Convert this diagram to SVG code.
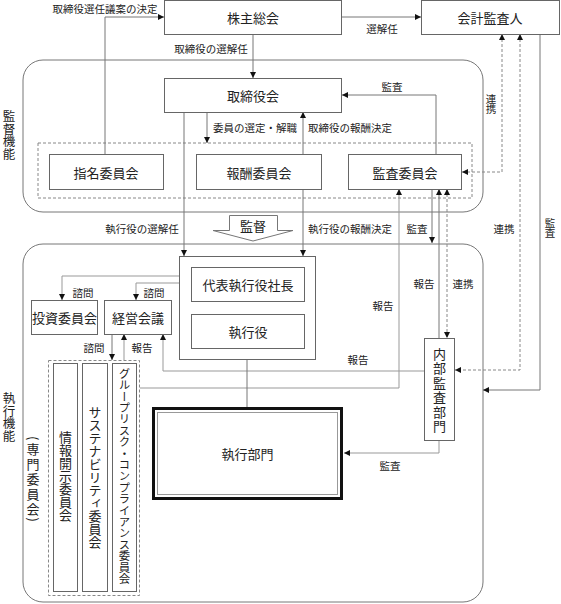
<svg xmlns="http://www.w3.org/2000/svg" width="561" height="604" viewBox="0 0 561 604">
<defs>
<marker id="ah" markerWidth="6" markerHeight="6" refX="6" refY="3" orient="auto-start-reverse" markerUnits="userSpaceOnUse">
<path d="M0,0 L6,3 L0,6 z" fill="#111"/>
</marker>
<style>
.box{fill:#fff;stroke:#666;stroke-width:1}
.area{fill:none;stroke:#777;stroke-width:1}
.grp{fill:none;stroke:#888;stroke-width:1;stroke-dasharray:3 2}
.t{font-family:"Noto Sans CJK JP","Noto Sans",sans-serif;fill:#222;font-size:13px;text-anchor:middle;dominant-baseline:central}
.s{font-size:10.5px}
.v{writing-mode:vertical-rl}
.ln{fill:none;stroke:#777;stroke-width:1}
.lt{fill:none;stroke:#999;stroke-width:1}
.d{fill:none;stroke:#888;stroke-width:1;stroke-dasharray:3 2}
</style>
</defs>
<rect width="561" height="604" fill="#fff"/>

<!-- areas -->
<g id="supervision">
<rect class="area" x="23" y="60" width="460" height="152" rx="20"/>
<text class="t v" x="9" y="135" style="font-size:12.5px">監督機能</text>
</g>
<g id="execution">
<rect class="area" x="23" y="244" width="460" height="358" rx="20"/>
<text class="t v" x="9" y="417" style="font-size:12.5px">執行機能</text>
</g>
<g id="committees-group">
<rect class="grp" x="38" y="143" width="434" height="55"/>
</g>

<!-- connectors -->
<g id="connectors">
<path class="ln" d="M105,154 V17 H164" marker-end="url(#ah)"/>
<path class="ln" d="M342,17 H421" marker-end="url(#ah)"/>
<path class="ln" d="M253,34 V78" marker-end="url(#ah)"/>
<path class="ln" d="M436,154 V95 H342" marker-end="url(#ah)"/>
<path class="ln" d="M207,112 V143" marker-end="url(#ah)"/>
<path class="ln" d="M303,154 V112" marker-end="url(#ah)"/>
<path class="ln" d="M303,189 V256" marker-end="url(#ah)"/>
<path class="ln" d="M184,112 V256" marker-end="url(#ah)"/>
<path class="ln" d="M432,189 V243" marker-end="url(#ah)"/>
<path class="ln" d="M439,338 V189" marker-end="url(#ah)"/>
<path class="d" d="M447,189 V338" marker-start="url(#ah)" marker-end="url(#ah)"/>
<path class="d" d="M502,34 V172 H462" marker-start="url(#ah)" marker-end="url(#ah)"/>
<path class="d" d="M520,34 V370 H455" marker-start="url(#ah)" marker-end="url(#ah)"/>
<path class="ln" d="M540,34 V390 H483" marker-end="url(#ah)"/>
<path class="lt" d="M191,276 H62 V300" marker-end="url(#ah)"/>
<path class="lt" d="M191,283 H136 V300" marker-end="url(#ah)"/>
<path class="ln" d="M112,334 V360" marker-end="url(#ah)"/>
<path class="lt" d="M124,360 V334" marker-end="url(#ah)"/>
<path class="lt" d="M424,371 H163 V334" marker-end="url(#ah)"/>
<path class="lt" d="M140,388 H399 V189" marker-end="url(#ah)"/>
<path class="ln" d="M247,359 V407"/>
<path class="lt" d="M439,440 V453 H344" marker-end="url(#ah)"/>
</g>

<!-- connector labels -->
<g id="labels">
<text class="t s" x="105" y="8">取締役選任議案の決定</text>
<text class="t s" x="382" y="28">選解任</text>
<text class="t s" x="211" y="48">取締役の選解任</text>
<text class="t s" x="392" y="86">監査</text>
<text class="t s v" x="491" y="104">連携</text>
<text class="t s" x="255" y="127">委員の選定・解職</text>
<text class="t s" x="350" y="127">取締役の報酬決定</text>
<text class="t s" x="142" y="228">執行役の選解任</text>
<text class="t s" x="350" y="228">執行役の報酬決定</text>
<text class="t s" x="417" y="228">監査</text>
<text class="t s" x="504" y="228">連携</text>
<text class="t s v" x="550" y="228">監査</text>
<text class="t s" x="424" y="283">報告</text>
<text class="t s" x="463" y="283">連携</text>
<text class="t s" x="383" y="305">報告</text>
<text class="t s" x="358" y="359">報告</text>
<text class="t s" x="83" y="292">諮問</text>
<text class="t s" x="154" y="292">諮問</text>
<text class="t s" x="94" y="347">諮問</text>
<text class="t s" x="142" y="347">報告</text>
<text class="t s" x="390" y="465">監査</text>
</g>

<!-- nodes -->
<g id="shareholders">
<rect class="box" x="164.5" y="0.5" width="177" height="34"/>
<text class="t" x="253" y="17">株主総会</text>
</g>
<g id="auditor">
<rect class="box" x="421.5" y="0.5" width="138" height="34"/>
<text class="t" x="490" y="17">会計監査人</text>
</g>
<g id="board">
<rect class="box" x="164.5" y="78.5" width="177" height="34"/>
<text class="t" x="253" y="95">取締役会</text>
</g>
<g id="nomination">
<rect class="box" x="49.5" y="154.5" width="114" height="35"/>
<text class="t" x="106" y="172">指名委員会</text>
</g>
<g id="compensation">
<rect class="box" x="196.5" y="154.5" width="125" height="35"/>
<text class="t" x="259" y="172">報酬委員会</text>
</g>
<g id="audit-committee">
<rect class="box" x="348.5" y="154.5" width="113" height="35"/>
<text class="t" x="405" y="172">監査委員会</text>
</g>
<g id="supervise-arrow">
<polygon points="229.5,215.5 277.5,215.5 277.5,230.5 293,230.5 253,241 213,230.5 229.5,230.5" fill="#fff" stroke="#777" stroke-width="1"/>
<text class="t" x="253" y="225">監督</text>
</g>
<g id="officers-group">
<rect class="box" x="179.5" y="256.5" width="136" height="103"/>
</g>
<g id="ceo">
<rect class="box" x="191.5" y="267.5" width="113" height="34"/>
<text class="t" x="248" y="284">代表執行役社長</text>
</g>
<g id="officers">
<rect class="box" x="191.5" y="314.5" width="113" height="34"/>
<text class="t" x="248" y="331">執行役</text>
</g>
<g id="investment">
<rect class="box" x="31.5" y="300.5" width="66" height="34"/>
<text class="t" x="64.5" y="317">投資委員会</text>
</g>
<g id="management">
<rect class="box" x="104.5" y="300.5" width="67" height="34"/>
<text class="t" x="138" y="317">経営会議</text>
</g>
<g id="special-committees">
<rect class="grp" x="48.5" y="360.5" width="91" height="235"/>
<text class="t v" x="33" y="480" style="letter-spacing:2px">(専門委員会)</text>
</g>
<g id="disclosure">
<rect class="box" x="53.5" y="363.5" width="24" height="228"/>
<text class="t v" x="65.5" y="476">情報開示委員会</text>
</g>
<g id="sustainability">
<rect class="box" x="82.5" y="363.5" width="25" height="228"/>
<text class="t v" x="95" y="477">サステナビリティ委員会</text>
</g>
<g id="risk-compliance">
<rect class="box" x="112.5" y="363.5" width="24" height="228"/>
<text class="t v" x="124.5" y="476" style="font-size:11.4px">グループリスク・コンプライアンス委員会</text>
</g>
<g id="internal-audit">
<rect class="box" x="424.5" y="338.5" width="30" height="102"/>
<text class="t v" x="439.5" y="391" style="letter-spacing:1.5px">内部監査部門</text>
</g>
<g id="execution-dept">
<rect x="153.5" y="408.5" width="188" height="90" fill="#fff" stroke="#111" stroke-width="3"/>
<rect x="157.5" y="412.5" width="180" height="82" fill="none" stroke="#999" stroke-width="1"/>
<text class="t" x="247.5" y="453">執行部門</text>
</g>
</svg>
